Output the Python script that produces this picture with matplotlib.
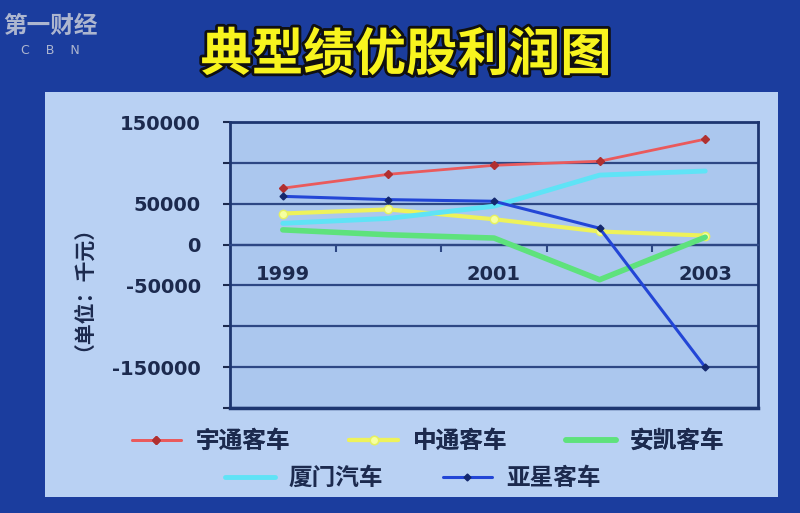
import numpy as np
import matplotlib
matplotlib.use("Agg")
import matplotlib.pyplot as plt
from matplotlib.patches import Rectangle
import matplotlib.patheffects as pe

plt.rcParams['font.family'] = ['Noto Sans CJK SC', 'DejaVu Sans']

# data (thousand yuan)
years = [1999, 2000, 2001, 2002, 2003]
yutong = [69000, 86000, 97000, 102000, 129000]
zhongtong = [38000, 43000, 31000, 16000, 11000]
ankai = [18000, 12000, 8000, -43000, 9000]
xiamen = [26000, 32000, 47000, 85000, 90000]
yaxing = [59000, 55000, 53000, 20000, -150000]
names = ["宇通客车", "中通客车", "安凯客车", "厦门汽车", "亚星客车"]

year_labels = [1999, 2001, 2003]
yticks = [-200000, -150000, -100000, -50000, 0, 50000, 100000, 150000]
ytick_labels = ["", "-150000", "", "-50000", "0", "50000", "", "150000"]

title = "典型绩优股利润图"
ylabel = "（单位：千元）"

navy = "#1c2a4e"
gridc = "#2d4784"

fig = plt.figure(figsize=(8, 5.13), dpi=100, facecolor="#1b3d9e")

# light panel behind the chart
fig.add_artist(Rectangle((45/800, 1-497/513), (778-45)/800, (497-92)/513,
                         transform=fig.transFigure, facecolor="#b9d1f3",
                         edgecolor="none", zorder=-1))

ax = fig.add_axes([230/800, 1-408/513, (758-230)/800, (408-122)/513])
ax.set_facecolor("#abc7ee")

series = [
    (yutong, dict(color="#ea5a5c", lw=2, marker="D", ms=4, mfc="#b03030", mec="#b03030")),
    (zhongtong, dict(color="#eef25a", lw=3, marker="o", ms=6, mfc="#f6ffa0", mec="#e6f060")),
    (ankai, dict(color="#5ee27c", lw=4)),
    (xiamen, dict(color="#5fe3f6", lw=3.5)),
    (yaxing, dict(color="#2346d6", lw=2.2, marker="D", ms=3.5, mfc="#14286e", mec="#14286e")),
]
handles = []
for (vals, st), nm in zip(series, names):
    ln, = ax.plot(years, vals, label=nm, solid_capstyle="round", zorder=3, **st)
    handles.append(ln)

ax.set_xlim(1998.5, 2003.5)
ax.set_ylim(-200000, 150000)

ax.set_yticks(yticks)
ax.set_yticklabels(ytick_labels)
ax.yaxis.grid(True, color=gridc, lw=1.6)
ax.set_axisbelow(True)
ax.tick_params(axis="y", length=5, width=1.5, color=navy, pad=16,
               labelsize=14, labelcolor=navy)
for lb in ax.get_yticklabels():
    lb.set_fontweight("bold")
    lb.set_family("DejaVu Sans")

# x axis sits on the zero line, ticks between categories
ax.spines["bottom"].set_position(("data", 0))
ax.set_xticks([1999.5, 2000.5, 2001.5, 2002.5])
ax.set_xticklabels([])
ax.set_xticks(year_labels, minor=True)
ax.set_xticklabels([str(y) for y in year_labels], minor=True)
ax.tick_params(axis="x", which="major", length=5, width=1.5, color=gridc)
ax.tick_params(axis="x", which="minor", length=0, pad=15, labelsize=14,
               labelcolor=navy)
for lb in ax.get_xticklabels(minor=True):
    lb.set_fontweight("bold")
    lb.set_family("DejaVu Sans")

for s in ["left", "right", "top"]:
    ax.spines[s].set_color("#1d3670")
    ax.spines[s].set_linewidth(2)
ax.spines["bottom"].set_color(gridc)
ax.spines["bottom"].set_linewidth(1.6)
ax.plot([0, 1], [0, 0], transform=ax.transAxes, color="#1d3670", lw=2.5, clip_on=False)

# title and unit label
fig.text(406/800, 1-55/513, title, ha="center", va="center", fontsize=37,
         fontweight="bold", color="#f8f41e",
         path_effects=[pe.withStroke(linewidth=4, foreground="#101010")])
fig.text(72/800, 1-278/513, ylabel, ha="center", va="center", rotation=90,
         fontsize=15, fontweight="bold", color=navy)

# station logo
fig.text(50/800, 1-26/513, "第一财经", ha="center", va="center", fontsize=17,
         fontweight="bold", color="#c8ccd8", alpha=0.85)
fig.text(50/800, 1-50/513, "C    B    N", ha="center", va="center", fontsize=9,
         color="#c8ccd8", alpha=0.85, family="DejaVu Sans")

# legend in two rows like the original
kw = dict(frameon=False, handlelength=2.1, handletextpad=0.6, labelcolor=navy,
          prop=dict(family=["Noto Sans CJK SC"], weight="bold", size=17))
leg1 = fig.legend(handles[:3], names[:3], loc="center", ncol=3,
                  bbox_to_anchor=(428/800, 1-441/513), columnspacing=2.5, **kw)
leg2 = fig.legend(handles[3:], names[3:], loc="center", ncol=2,
                  bbox_to_anchor=(413/800, 1-478/513), columnspacing=2.5, **kw)
fig.add_artist(leg1)

fig.savefig("out.png", dpi=100)
